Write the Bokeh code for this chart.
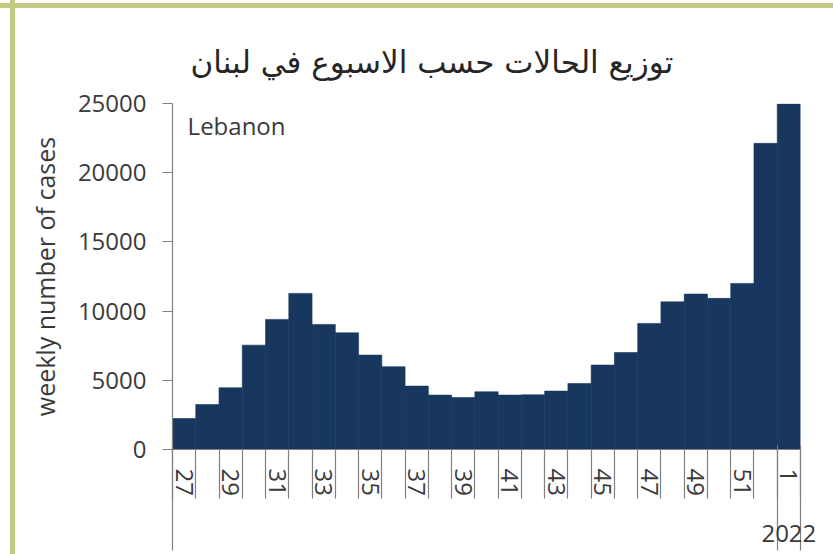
from bokeh.plotting import figure
from bokeh.models import (Range1d, LinearAxis, FixedTicker, Title, Label)
from bokeh.embed import file_html
from bokeh.resources import INLINE

# ---- data ----
weeks = ["27", "28", "29", "30", "31", "32", "33", "34", "35", "36", "37", "38", "39",
         "40", "41", "42", "43", "44", "45", "46", "47", "48", "49", "50", "51", "52", "1"]
cases = [2240, 3250, 4460, 7540, 9400, 11280, 9040, 8430, 6820, 5980, 4580, 3930, 3760,
         4170, 3930, 3950, 4220, 4770, 6100, 7010, 9110, 10670, 11230, 10920, 12000, 22120, 24960]
y_ticks = [0, 5000, 10000, 15000, 20000, 25000]
year_label = "2022"
title_text = "توزيع الحالات حسب الاسبوع في لبنان"
country = "Lebanon"
y_label = "weekly number of cases"

BAR = "#17375E"
AXIS = "#808080"
TXT = "#3a3a3a"
FONT = "Open Sans"
FRAME = "#c2c982"

n = len(weeks)
idx = list(range(n))

p = figure(width=833, height=554, output_backend="svg", toolbar_location=None,
           x_range=Range1d(0, n), y_range=Range1d(0, 25000),
           x_axis_type=None, y_axis_type=None,
           min_border_left=172, min_border_right=33, min_border_top=103, min_border_bottom=105)
p.outline_line_color = None
p.xgrid.visible = False
p.ygrid.visible = False
p.background_fill_color = "white"
p.border_fill_color = None
p.styles = {
    "background-color": "white",
    "background-image": f"linear-gradient({FRAME},{FRAME}), linear-gradient({FRAME},{FRAME})",
    "background-size": "100% 5px, 5px 100%",
    "background-position": "0px 3px, 10px 0px",
    "background-repeat": "no-repeat",
}

p.quad(left=idx, right=[i + 1 for i in idx], bottom=0, top=cases,
       fill_color=BAR, line_color=BAR, line_width=0.6)

# y axis
yax = LinearAxis(ticker=FixedTicker(ticks=y_ticks, minor_ticks=[]))
yax.major_label_overrides = {t: str(t) for t in y_ticks}
yax.axis_line_color = AXIS
yax.axis_line_width = 1.2
yax.major_tick_line_color = AXIS
yax.major_tick_line_width = 1.2
yax.major_tick_out = 10
yax.major_tick_in = 0
yax.major_label_standoff = 16
yax.major_label_text_font = FONT
yax.major_label_text_font_size = "24px"
yax.major_label_text_color = TXT
yax.axis_label = y_label
yax.axis_label_text_font = FONT
yax.axis_label_text_font_size = "25px"
yax.axis_label_text_font_style = "normal"
yax.axis_label_text_color = TXT
yax.axis_label_standoff = 13
p.add_layout(yax, "left")

# x axis: labels at odd-week centers, ticks at every week boundary
lab_pos = [i + 0.5 for i in idx if i % 2 == 0]
xax = LinearAxis(ticker=FixedTicker(ticks=lab_pos, minor_ticks=[float(i) for i in range(n + 1)]))
xax.major_label_overrides = {i + 0.5: weeks[i] for i in idx if i % 2 == 0}
xax.major_label_orientation = "vertical"
xax.axis_line_color = AXIS
xax.axis_line_width = 1.2
xax.major_tick_line_color = None
xax.major_tick_out = 0
xax.major_tick_in = 0
xax.minor_tick_line_color = AXIS
xax.minor_tick_line_width = 1.2
xax.minor_tick_out = 49
xax.minor_tick_in = 0
xax.major_label_standoff = -30
xax.major_label_text_font = FONT
xax.major_label_text_font_size = "24px"
xax.major_label_text_color = TXT
p.add_layout(xax, "below")

# second level: year
xax2 = LinearAxis(ticker=FixedTicker(ticks=[n - 0.5], minor_ticks=[0.0, float(n - 1), float(n)]))
xax2.major_label_overrides = {n - 0.5: year_label}
xax2.axis_line_color = None
xax2.major_tick_line_color = None
xax2.major_tick_out = 0
xax2.major_tick_in = 0
xax2.minor_tick_line_color = AXIS
xax2.minor_tick_line_width = 1.2
xax2.minor_tick_in = 53
xax2.minor_tick_out = 52
xax2.major_label_standoff = -26
xax2.major_label_text_font = FONT
xax2.major_label_text_font_size = "24px"
xax2.major_label_text_color = TXT
p.add_layout(xax2, "below")

p.add_layout(Title(text=title_text, align="left", offset=18, standoff=48,
                   text_font="DejaVu Sans", text_font_size="31px",
                   text_font_style="normal", text_color="#262626"), "above")

p.add_layout(Label(x=0.65, y=23400, text=country, text_font=FONT, text_font_size="24px",
                   text_color=TXT, text_baseline="middle"))

open("out.html", "w").write(file_html(p, INLINE))
